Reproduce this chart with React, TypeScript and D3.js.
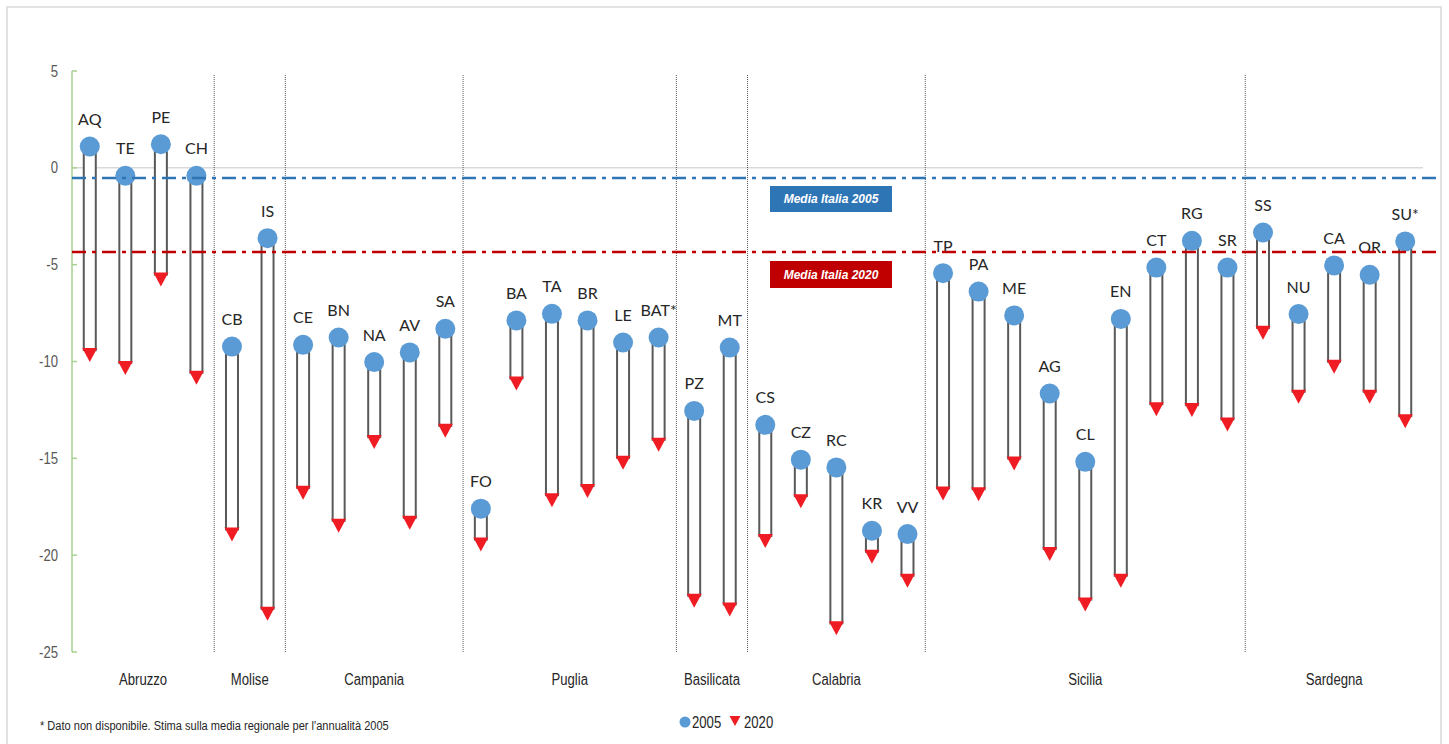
import React from "react";
import * as d3 from "d3";

const codes = ["AQ","TE","PE","CH","CB","IS","CE","BN","NA","AV","SA","FO","BA","TA","BR","LE","BAT*","PZ","MT","CS","CZ","RC","KR","VV","TP","PA","ME","AG","CL","EN","CT","RG","SR","SS","NU","CA","OR","SU*"];
const v2005 = [1.1,-0.41,1.22,-0.41,-9.23,-3.63,-9.14,-8.76,-10.03,-9.53,-8.31,-17.6,-7.88,-7.54,-7.88,-9.02,-8.76,-12.55,-9.28,-13.27,-15.07,-15.47,-18.74,-18.91,-5.44,-6.39,-7.62,-11.65,-15.18,-7.8,-5.15,-3.77,-5.15,-3.34,-7.55,-5.04,-5.52,-3.8];
const v2020 = [-9.67,-10.33,-5.77,-10.84,-18.93,-23.03,-16.78,-18.48,-14.16,-18.33,-13.58,-19.45,-11.13,-17.16,-16.69,-15.23,-14.3,-22.35,-22.8,-19.27,-17.21,-23.78,-20.08,-21.32,-16.81,-16.85,-15.27,-19.94,-22.55,-21.32,-12.46,-12.51,-13.25,-8.52,-11.82,-10.27,-11.82,-13.08];
const regions = ["Abruzzo","Molise","Campania","Puglia","Basilicata","Calabria","Sicilia","Sardegna"];
const regionCounts = [4,2,5,6,2,5,9,5];
const yTicks = [5,0,-5,-10,-15,-20,-25];
const mediaItalia2005 = -0.53;
const mediaItalia2020 = -4.35;
const footnote = "* Dato non disponibile. Stima sulla media regionale per l'annualità 2005";

const W = 1449, H = 744;
const sans = "'Liberation Sans',Arial,sans-serif";

function NText(props: { x: number; y: number; anchor?: string; size: number; fill: string; children: React.ReactNode }) {
  return (
    <text transform={`translate(${props.x},${props.y}) scale(0.82,1)`} dy="0.35em"
      textAnchor={props.anchor || "start"} fontFamily={sans} fontSize={props.size} fill={props.fill}>
      {props.children}
    </text>
  );
}

export default function App() {
  const x = d3.scaleBand<string>().domain(codes).range([72, 1423]).padding(0);
  const y = d3.scaleLinear().domain([-25, 5]).range([652, 71]);
  const bw = x.bandwidth();
  const cx = (c: string) => (x(c) as number) + bw / 2;
  const triH = 14;

  let acc = 0;
  const groups = regions.map((r, i) => {
    const start = acc;
    acc += regionCounts[i];
    const x0 = x(codes[start]) as number;
    const x1 = (x(codes[acc - 1]) as number) + bw;
    return { name: r, x0, x1 };
  });

  const tri = (px: number, py: number, w: number, h: number) =>
    `M${px - w / 2},${py - h / 2}L${px + w / 2},${py - h / 2}L${px},${py + h / 2}Z`;

  return (
    <svg width={W} height={H} style={{ position: "absolute", left: 0, top: 0, background: "#fff" }}>
      <rect x={7} y={7} width={1434} height={760} fill="none" stroke="#d9d9d9" strokeWidth={1.5} />
      <line x1={72} x2={1423} y1={y(0)} y2={y(0)} stroke="#d9d9d9" strokeWidth={1.5} />
      {groups.slice(0, -1).map((g, i) => (
        <line key={i} x1={g.x1} x2={g.x1} y1={75} y2={652} stroke="#595959" strokeWidth={1} strokeDasharray="1,1" />
      ))}
      <line x1={72} x2={72} y1={y(5)} y2={y(-25)} stroke="#a9d18e" strokeWidth={1.5} />
      {yTicks.map((t) => (
        <g key={t}>
          <line x1={72} x2={77} y1={y(t)} y2={y(t)} stroke="#a9d18e" strokeWidth={1.5} />
          <NText x={58} y={y(t)} anchor="end" size={16} fill="#595959">{t}</NText>
        </g>
      ))}
      {codes.map((c, i) => (
        <rect key={c} x={cx(c) - 6} y={y(v2005[i])} width={12} height={y(v2020[i]) - 5 - y(v2005[i])}
          fill="#fff" stroke="#595959" strokeWidth={2} />
      ))}
      {codes.map((c, i) => (
        <path key={c} d={tri(cx(c), y(v2020[i]), 15, triH)} fill="#f01c24" />
      ))}
      {codes.map((c, i) => (
        <circle key={c} cx={cx(c)} cy={y(v2005[i])} r={10} fill="#5b9bd5" />
      ))}
      {codes.map((c, i) => (
        <text key={c} x={cx(c)} y={y(v2005[i]) - 27} dy="0.35em" textAnchor="middle" fontFamily="Lato, 'Open Sans', sans-serif" fontSize={16} fill="#262626">{c}</text>
      ))}
      <line x1={72} x2={1441} y1={y(mediaItalia2005)} y2={y(mediaItalia2005)} stroke="#2e75b6" strokeWidth={2.5} strokeDasharray="14,6,4,6" />
      <line x1={72} x2={1441} y1={y(mediaItalia2020)} y2={y(mediaItalia2020)} stroke="#c00000" strokeWidth={2.5} strokeDasharray="14,6,4,6" />
      <rect x={770} y={186} width={122} height={26} fill="#2e75b6" />
      <text x={831} y={199} dy="0.35em" textAnchor="middle" fontFamily={sans} fontWeight="bold" fontStyle="italic" fontSize={12} fill="#fff">Media Italia 2005</text>
      <rect x={770} y={261} width={122} height={27} fill="#c00000" />
      <text x={831} y={274.5} dy="0.35em" textAnchor="middle" fontFamily={sans} fontWeight="bold" fontStyle="italic" fontSize={12} fill="#fff">Media Italia 2020</text>
      {groups.map((g) => (
        <NText key={g.name} x={(g.x0 + g.x1) / 2} y={679} anchor="middle" size={16} fill="#262626">{g.name}</NText>
      ))}
      <NText x={40} y={725} size={13.5} fill="#262626">{footnote}</NText>
      <circle cx={685} cy={722} r={5.5} fill="#5b9bd5" />
      <NText x={692} y={722} size={16} fill="#262626">2005</NText>
      <path d={tri(735, 721, 11, 10)} fill="#f01c24" />
      <NText x={744} y={722} size={16} fill="#262626">2020</NText>
    </svg>
  );
}
